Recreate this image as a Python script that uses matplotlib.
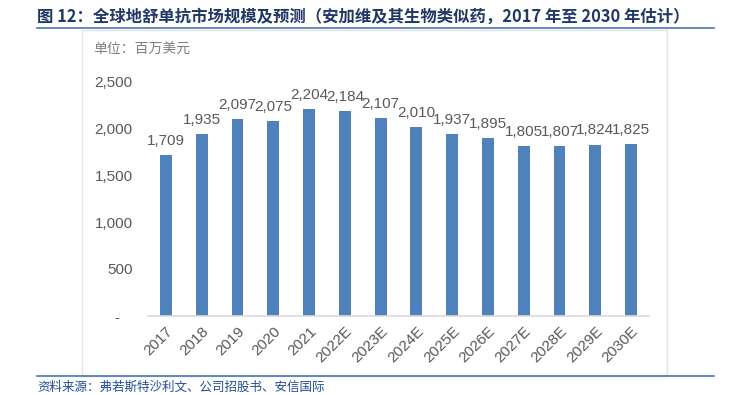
import matplotlib.pyplot as plt
from matplotlib.lines import Line2D
from matplotlib.patches import Rectangle

plt.rcParams['font.family'] = ['Liberation Sans', 'Noto Sans CJK SC', 'DejaVu Sans']

years = ['2017', '2018', '2019', '2020', '2021', '2022E', '2023E', '2024E',
         '2025E', '2026E', '2027E', '2028E', '2029E', '2030E']
market = [1709, 1935, 2097, 2075, 2204, 2184, 2107, 2010, 1937, 1895, 1805, 1807, 1824, 1825]
yticks = [0, 500, 1000, 1500, 2000, 2500]
ytick_labels = ['-   ', '500', '1,000', '1,500', '2,000', '2,500']

title = '图 12：全球地舒单抗市场规模及预测（安加维及其生物类似药，2017 年至 2030 年估计）'
unit = '单位：百万美元'
source = '资料来源：弗若斯特沙利文、公司招股书、安信国际'

fig = plt.figure(figsize=(7.3, 3.95), dpi=100)

# header / footer decoration
fig.text(37 / 730, 1 - 17 / 395, title, fontsize=11.8, fontweight='bold', color='#1F3864',
         family=['Noto Sans CJK SC', 'DejaVu Sans'], va='center', ha='left')
fig.add_artist(Line2D([37 / 730, 714 / 730], [1 - 28 / 395] * 2, color='#4A76B8', lw=1.2))
fig.add_artist(Line2D([37 / 730, 714 / 730], [1 - 376 / 395] * 2, color='#4A76B8', lw=1.2))
fig.add_artist(Rectangle((82 / 730, 1 - 376 / 395), (667 - 82) / 730, (376 - 30) / 395,
                         facecolor='white', edgecolor='#E3E3E3', lw=1.0, zorder=-1))
fig.text(93 / 730, 1 - 50 / 395, unit, fontsize=10, color='#7F7F7F',
         family=['Noto Sans CJK SC', 'DejaVu Sans'], va='center', ha='left')
fig.text(37 / 730, 1 - 387 / 395, source, fontsize=9, color='#1F4E9A', style='italic',
         family=['Noto Sans CJK SC', 'DejaVu Sans'], va='center', ha='left')

ax = fig.add_axes([148 / 730, 1 - 316 / 395, (649 - 148) / 730, (316 - 81) / 395])
x = range(len(years))
bars = ax.bar(x, market, width=0.33, color='#4F81BD')
for xi, v in zip(x, market):
    ax.text(xi, v + 75, f'{v:,}', ha='center', va='bottom', fontsize=11, color='#595959')

ax.set_xlim(-0.5, len(years) - 0.5)
ax.set_ylim(0, 2500)
ax.set_yticks(yticks)
ax.set_yticklabels(ytick_labels)
ax.set_xticks(list(x))
ax.set_xticklabels(years, rotation=45, ha='right', rotation_mode='anchor')
ax.tick_params(axis='both', length=0, labelsize=11, labelcolor='#595959')
ax.tick_params(axis='y', pad=11)
ax.tick_params(axis='x', pad=6)
for s in ['top', 'right', 'left']:
    ax.spines[s].set_visible(False)
ax.spines['bottom'].set_color('#D9D9D9')
ax.spines['bottom'].set_linewidth(1.2)
ax.patch.set_alpha(0)

fig.savefig('out.png', dpi=100)
